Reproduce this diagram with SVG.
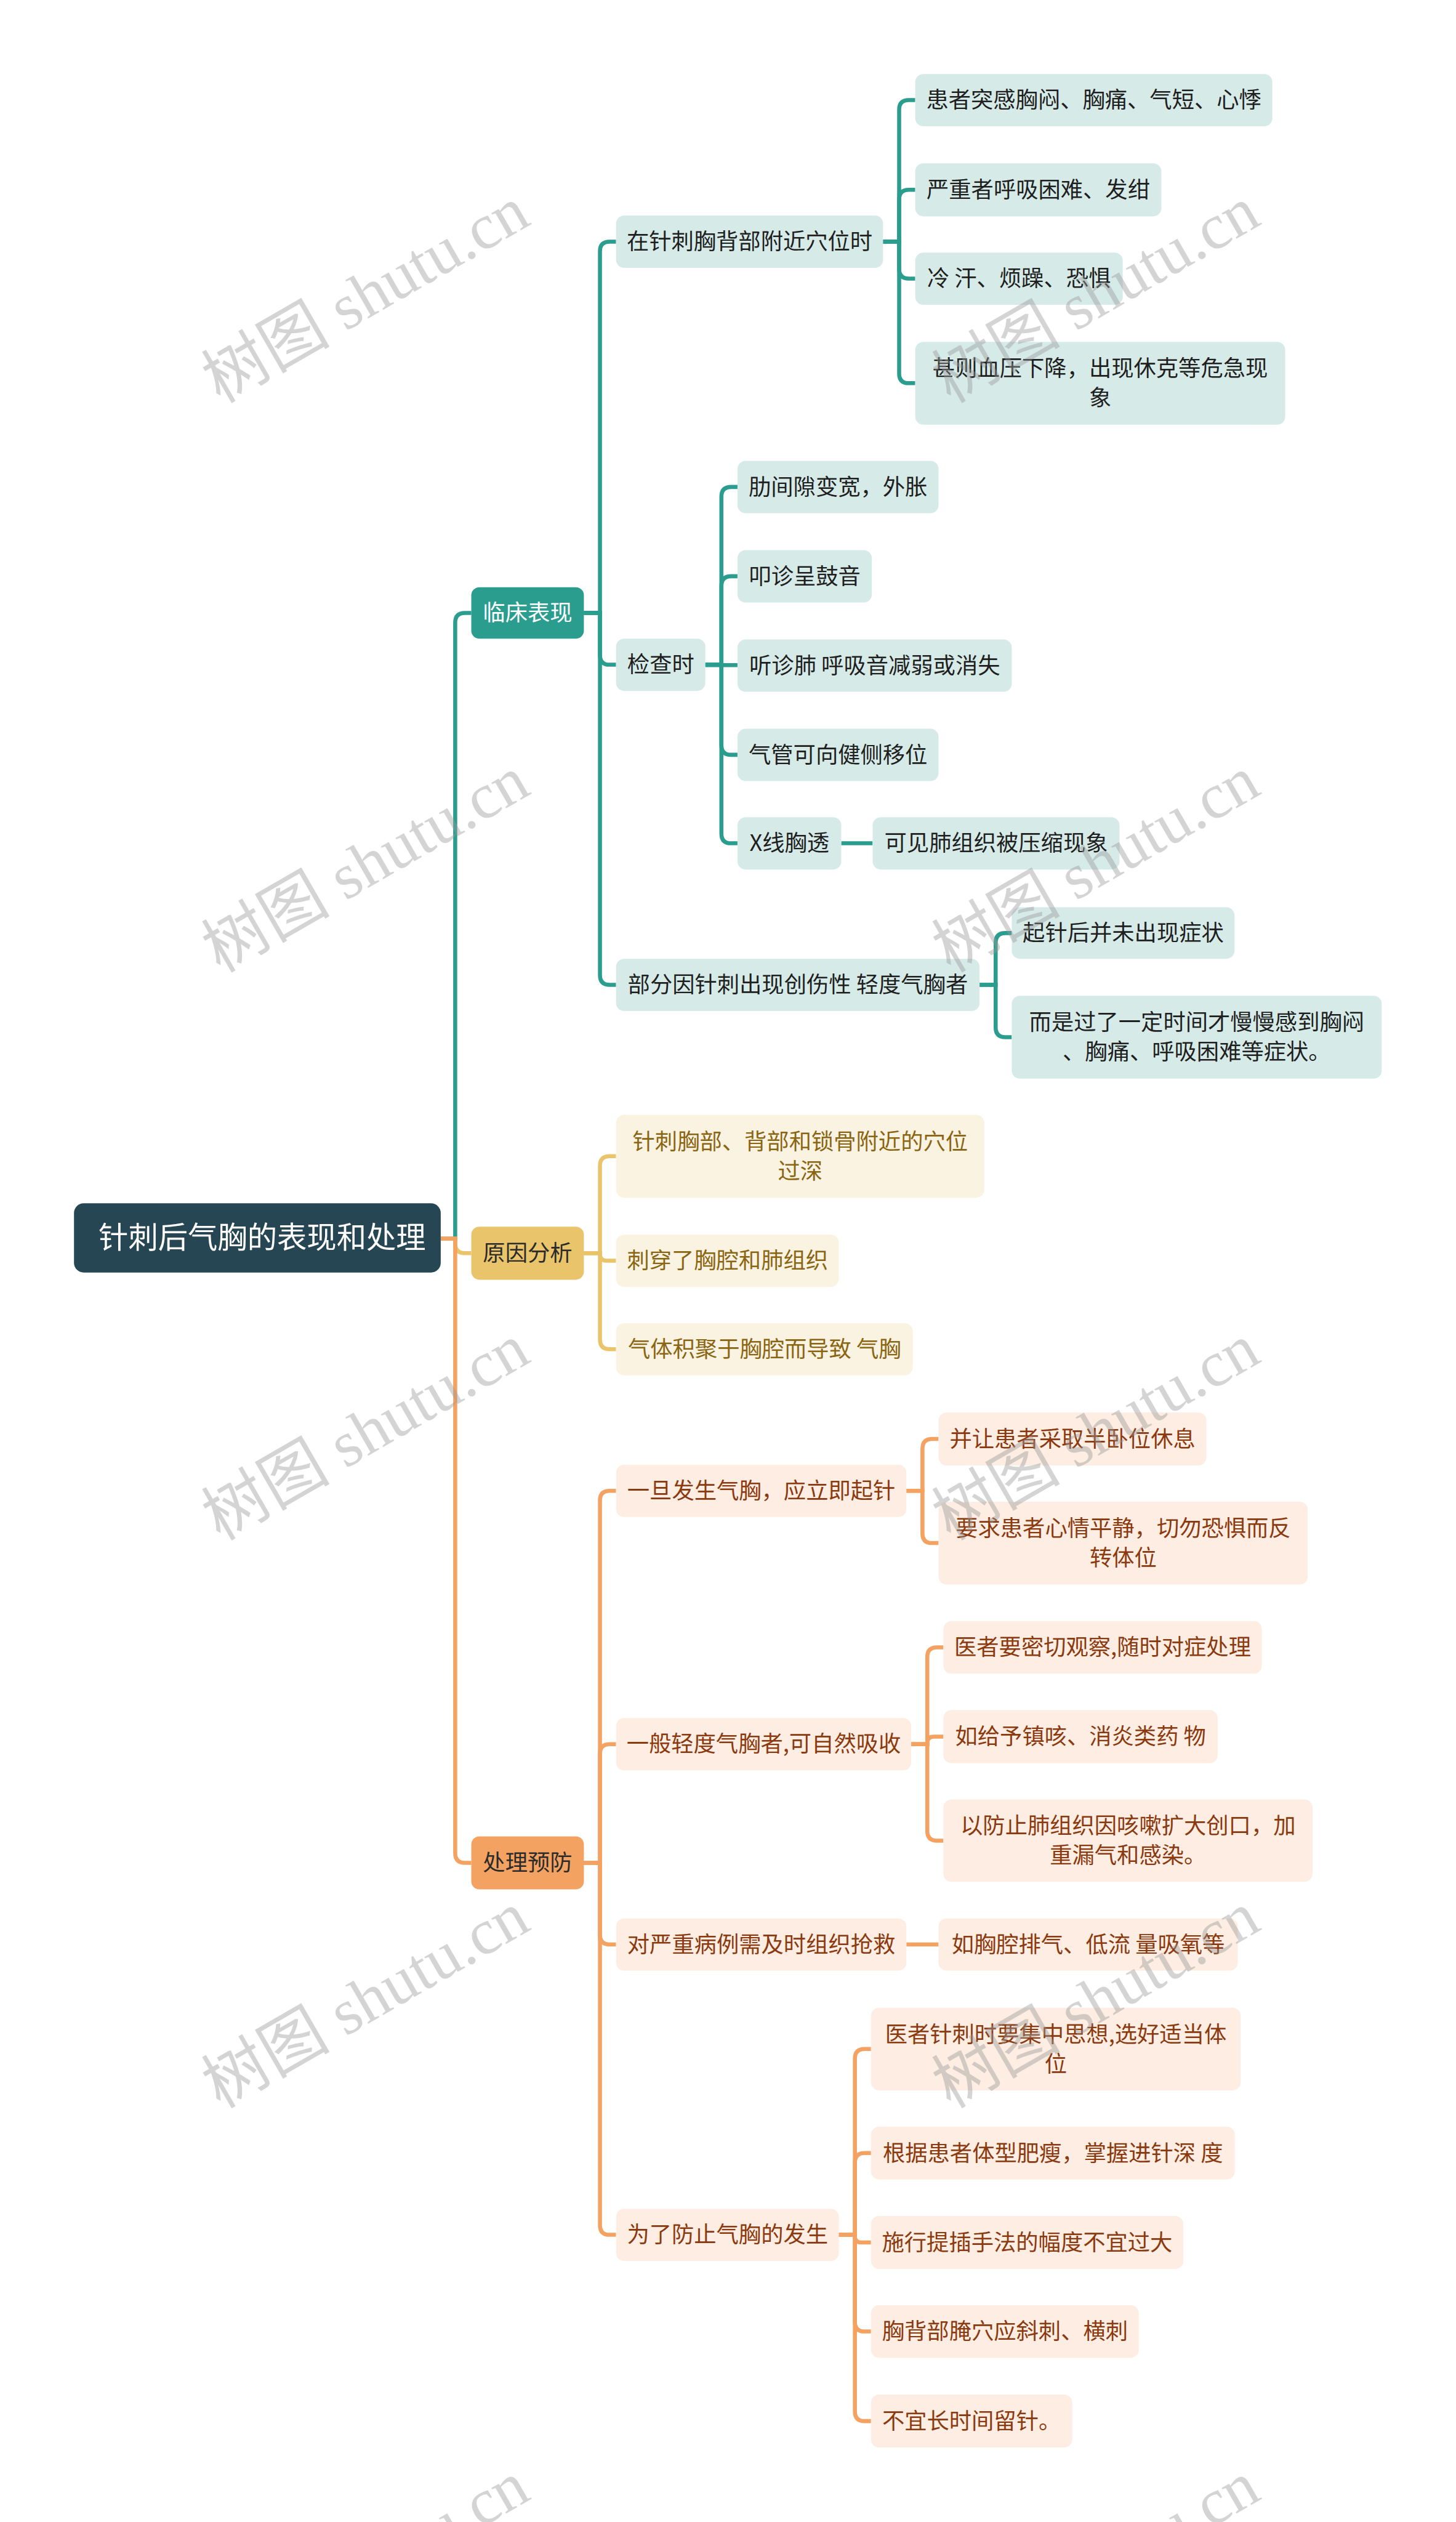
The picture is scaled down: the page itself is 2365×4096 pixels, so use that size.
<svg xmlns="http://www.w3.org/2000/svg" width="2365" height="4096" viewBox="0 0 2365 4096">
<style>
text{font-family:"Noto Sans CJK SC","Noto Sans",sans-serif;font-size:13.9px;text-anchor:middle}
.root rect{fill:#264653}
.root text{fill:#ffffff;font-size:18.5px}
.l1t rect{fill:#2a9d8f}.l1t text{fill:#ffffff}
.l1y rect{fill:#e9c46a}.l1y text{fill:#2b2b2b}
.l1o rect{fill:#f4a261}.l1o text{fill:#2b2b2b}
.t rect{fill:#d6ebe8}.t text{fill:#1f1f1f}
.y rect{fill:#fbf3e2}.y text{fill:#8a6512}
.o rect{fill:#fdede2}.o text{fill:#8b3a10}
.ct{fill:none;stroke:#2a9d8f;stroke-width:2.5}
.cy{fill:none;stroke:#e9c46a;stroke-width:2.5}
.co{fill:none;stroke:#f4a261;stroke-width:2.5}
.wm text{font-family:"Liberation Serif","Noto Sans CJK SC",serif;font-size:40px;fill:#999999;fill-opacity:0.42}
</style>
<rect width="2365" height="4096" fill="#ffffff"/>
<g transform="scale(2.6127)">
<g id="connectors">
<path class="ct" d="M274 770 H283 V387 Q283 381 289 381 H293"/>
<path class="cy" d="M274 770 H283 V773 Q283 779 289 779 H293"/>
<path class="co" d="M274 770 H283 V1152 Q283 1158 289 1158 H293"/>
<path class="ct" d="M363 381 H373 V156.2 Q373 150.2 379 150.2 H383"/>
<path class="ct" d="M363 381 H373 V407.2 Q373 413.2 379 413.2 H383"/>
<path class="ct" d="M363 381 H373 V606.2 Q373 612.2 379 612.2 H383"/>
<path class="ct" d="M549 150.2 H559 V68.2 Q559 62.2 565 62.2 H569"/>
<path class="ct" d="M549 150.2 H559 V124 Q559 118 565 118 H569"/>
<path class="ct" d="M549 150.2 H559 V167.2 Q559 173.2 565 173.2 H569"/>
<path class="ct" d="M549 150.2 H559 V232.2 Q559 238.2 565 238.2 H569"/>
<path class="ct" d="M438.5 413.2 H448.5 V308.7 Q448.5 302.7 454.5 302.7 H458.5"/>
<path class="ct" d="M438.5 413.2 H448.5 V364.2 Q448.5 358.2 454.5 358.2 H458.5"/>
<path class="ct" d="M438.5 413.5 H458.5"/>
<path class="ct" d="M438.5 413.2 H448.5 V463.2 Q448.5 469.2 454.5 469.2 H458.5"/>
<path class="ct" d="M438.5 413.2 H448.5 V518.2 Q448.5 524.2 454.5 524.2 H458.5"/>
<path class="ct" d="M523 524.2 H542.5"/>
<path class="ct" d="M609 612.2 H619 V586 Q619 580 625 580 H629"/>
<path class="ct" d="M609 612.2 H619 V638.7 Q619 644.7 625 644.7 H629"/>
<path class="cy" d="M363 779 H373 V724.7 Q373 718.7 379 718.7 H383"/>
<path class="cy" d="M363 779 H373 V779.7 Q373 783.7 377 783.7 H383"/>
<path class="cy" d="M363 779 H373 V832.7 Q373 838.7 379 838.7 H383"/>
<path class="co" d="M363 1158 H373 V932.7 Q373 926.7 379 926.7 H383"/>
<path class="co" d="M363 1158 H373 V1090.2 Q373 1084.2 379 1084.2 H383"/>
<path class="co" d="M363 1158 H373 V1202.7 Q373 1208.7 379 1208.7 H383"/>
<path class="co" d="M363 1158 H373 V1383.2 Q373 1389.2 379 1389.2 H383"/>
<path class="co" d="M563.5 926.7 H573.5 V900.5 Q573.5 894.5 579.5 894.5 H583.5"/>
<path class="co" d="M563.5 926.7 H573.5 V953.2 Q573.5 959.2 579.5 959.2 H583.5"/>
<path class="co" d="M566.5 1084.2 H576.5 V1030 Q576.5 1024 582.5 1024 H586.5"/>
<path class="co" d="M566.5 1084.2 H576.5 V1083.5 Q576.5 1079.5 580.5 1079.5 H586.5"/>
<path class="co" d="M566.5 1084.2 H576.5 V1138.2 Q576.5 1144.2 582.5 1144.2 H586.5"/>
<path class="co" d="M563.5 1208.7 H583.5"/>
<path class="co" d="M521.5 1389.2 H531.5 V1279.7 Q531.5 1273.7 537.5 1273.7 H541.5"/>
<path class="co" d="M521.5 1389.2 H531.5 V1344.4 Q531.5 1338.4 537.5 1338.4 H541.5"/>
<path class="co" d="M521.5 1389.2 H531.5 V1390 Q531.5 1394 535.5 1394 H541.5"/>
<path class="co" d="M521.5 1389.2 H531.5 V1443.3 Q531.5 1449.3 537.5 1449.3 H541.5"/>
<path class="co" d="M521.5 1389.2 H531.5 V1499 Q531.5 1505 537.5 1505 H541.5"/>
</g>

<g id="root" class="root"><rect x="46" y="748" width="228" height="43" rx="6"/><text x="163" y="776">针刺后气胸的表现和处理</text></g>

<g id="n-linchuang" class="l1t"><rect x="293" y="365" width="70" height="32" rx="5"/><text x="328" y="385.9">临床表现</text></g>
<g id="n-yuanyin" class="l1y"><rect x="293" y="762.5" width="70" height="33" rx="5"/><text x="328" y="783.9">原因分析</text></g>
<g id="n-chuli" class="l1o"><rect x="293" y="1141.5" width="70" height="33" rx="5"/><text x="328" y="1162.9">处理预防</text></g>

<g id="a1" class="t"><rect x="383" y="134" width="166" height="32.5" rx="5"/><text x="466" y="155.1">在针刺胸背部附近穴位时</text></g>
<g id="a2" class="t"><rect x="383" y="397" width="55.5" height="32.5" rx="5"/><text x="410.8" y="418.1">检查时</text></g>
<g id="a3" class="t"><rect x="383" y="596" width="226" height="32.5" rx="5"/><text x="496" y="617.1">部分因针刺出现创伤性 轻度气胸者</text></g>

<g id="b1" class="t"><rect x="569" y="46" width="222" height="32.5" rx="5"/><text x="680" y="67.1">患者突感胸闷、胸痛、气短、心悸</text></g>
<g id="b2" class="t"><rect x="569" y="101.5" width="153" height="33" rx="5"/><text x="645.5" y="122.9">严重者呼吸困难、发绀</text></g>
<g id="b3" class="t"><rect x="569" y="157" width="129" height="32.5" rx="5"/><text x="633.5" y="178.1">冷 汗、烦躁、恐惧</text></g>
<g id="b4" class="t"><rect x="569" y="212.5" width="230" height="51.5" rx="5"/><text x="684" y="233.9">甚则血压下降，出现休克等危急现</text><text x="684" y="252.3">象</text></g>

<g id="c1" class="t"><rect x="458.5" y="286.5" width="125" height="32.5" rx="5"/><text x="521" y="307.6">肋间隙变宽，外胀</text></g>
<g id="c2" class="t"><rect x="458.5" y="342" width="83.5" height="32.5" rx="5"/><text x="500.3" y="363.1">叩诊呈鼓音</text></g>
<g id="c3" class="t"><rect x="458.5" y="397.5" width="170.5" height="32.5" rx="5"/><text x="543.8" y="418.6">听诊肺 呼吸音减弱或消失</text></g>
<g id="c4" class="t"><rect x="458.5" y="453" width="125" height="32.5" rx="5"/><text x="521" y="474.1">气管可向健侧移位</text></g>
<g id="c5" class="t"><rect x="458.5" y="508" width="64.5" height="32.5" rx="5"/><text x="490.8" y="529.1">X线胸透</text></g>
<g id="c6" class="t"><rect x="542.5" y="508" width="153.5" height="32.5" rx="5"/><text x="619.3" y="529.1">可见肺组织被压缩现象</text></g>

<g id="d1" class="t"><rect x="629" y="564" width="138.5" height="32" rx="5"/><text x="698.3" y="584.9">起针后并未出现症状</text></g>
<g id="d2" class="t"><rect x="629" y="619" width="230" height="51.5" rx="5"/><text x="744" y="640.4">而是过了一定时间才慢慢感到胸闷</text><text x="744" y="658.8">、胸痛、呼吸困难等症状。</text></g>

<g id="e1" class="y"><rect x="383" y="693" width="229" height="51.5" rx="5"/><text x="497.5" y="714.4">针刺胸部、背部和锁骨附近的穴位</text><text x="497.5" y="732.8">过深</text></g>
<g id="e2" class="y"><rect x="383" y="767.5" width="138.5" height="32.5" rx="5"/><text x="452.3" y="788.6">刺穿了胸腔和肺组织</text></g>
<g id="e3" class="y"><rect x="383" y="822.5" width="184.5" height="32.5" rx="5"/><text x="475.3" y="843.6">气体积聚于胸腔而导致 气胸</text></g>

<g id="f1" class="o"><rect x="383" y="910.5" width="180.5" height="32.5" rx="5"/><text x="473.3" y="931.6">一旦发生气胸，应立即起针</text></g>
<g id="f2" class="o"><rect x="383" y="1068" width="183.5" height="32.5" rx="5"/><text x="474.8" y="1089.1">一般轻度气胸者,可自然吸收</text></g>
<g id="f3" class="o"><rect x="383" y="1192.5" width="180.5" height="32.5" rx="5"/><text x="473.3" y="1213.6">对严重病例需及时组织抢救</text></g>
<g id="f4" class="o"><rect x="383" y="1373" width="138.5" height="32.5" rx="5"/><text x="452.3" y="1394.1">为了防止气胸的发生</text></g>

<g id="g1" class="o"><rect x="583.5" y="878" width="166.5" height="33" rx="5"/><text x="666.8" y="899.4">并让患者采取半卧位休息</text></g>
<g id="g2" class="o"><rect x="583.5" y="933.5" width="229.5" height="51.5" rx="5"/><text x="698.3" y="954.9">要求患者心情平静，切勿恐惧而反</text><text x="698.3" y="973.3">转体位</text></g>

<g id="h1" class="o"><rect x="586.5" y="1007.7" width="198" height="32.7" rx="5"/><text x="685.5" y="1028.9">医者要密切观察,随时对症处理</text></g>
<g id="h2" class="o"><rect x="586.5" y="1063" width="170.5" height="33" rx="5"/><text x="671.8" y="1084.4">如给予镇咳、消炎类药 物</text></g>
<g id="h3" class="o"><rect x="586.5" y="1118.6" width="229.5" height="51.2" rx="5"/><text x="701.3" y="1139.9">以防止肺组织因咳嗽扩大创口，加</text><text x="701.3" y="1158.3">重漏气和感染。</text></g>

<g id="i1" class="o"><rect x="583.5" y="1192.5" width="186" height="32.5" rx="5"/><text x="676.5" y="1213.6">如胸腔排气、低流 量吸氧等</text></g>

<g id="j1" class="o"><rect x="541.5" y="1248" width="229.8" height="51.4" rx="5"/><text x="656.4" y="1269.4">医者针刺时要集中思想,选好适当体</text><text x="656.4" y="1287.8">位</text></g>
<g id="j2" class="o"><rect x="541.5" y="1322" width="226.2" height="32.8" rx="5"/><text x="654.6" y="1343.3">根据患者体型肥瘦，掌握进针深 度</text></g>
<g id="j3" class="o"><rect x="541.5" y="1377.5" width="194.2" height="32.9" rx="5"/><text x="638.6" y="1398.9">施行提插手法的幅度不宜过大</text></g>
<g id="j4" class="o"><rect x="541.5" y="1433" width="166.5" height="32.7" rx="5"/><text x="624.8" y="1454.2">胸背部腌穴应斜刺、横刺</text></g>
<g id="j5" class="o"><rect x="541.5" y="1488.5" width="125.1" height="32.9" rx="5"/><text x="604" y="1509.9">不宜长时间留针。</text></g>

<g id="watermarks" class="wm">
<text x="234" y="195" transform="rotate(-30 234 195)">树图 shutu.cn</text>
<text x="688" y="195" transform="rotate(-30 688 195)">树图 shutu.cn</text>
<text x="234" y="549" transform="rotate(-30 234 549)">树图 shutu.cn</text>
<text x="688" y="549" transform="rotate(-30 688 549)">树图 shutu.cn</text>
<text x="234" y="902" transform="rotate(-30 234 902)">树图 shutu.cn</text>
<text x="688" y="902" transform="rotate(-30 688 902)">树图 shutu.cn</text>
<text x="234" y="1255" transform="rotate(-30 234 1255)">树图 shutu.cn</text>
<text x="688" y="1255" transform="rotate(-30 688 1255)">树图 shutu.cn</text>
<text x="234" y="1609" transform="rotate(-30 234 1609)">树图 shutu.cn</text>
<text x="688" y="1609" transform="rotate(-30 688 1609)">树图 shutu.cn</text>
</g>
</g>
</svg>
